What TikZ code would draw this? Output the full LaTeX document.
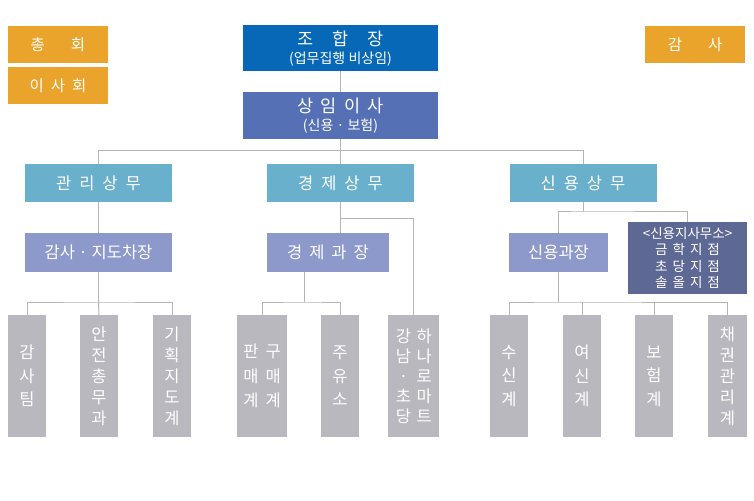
\documentclass[tikz,border=0pt]{standalone}
\usepackage{fontspec}
\setmainfont{Noto Sans CJK KR}
\definecolor{orgc}{HTML}{EAA42C}
\definecolor{chiefc}{HTML}{0768B7}
\definecolor{execc}{HTML}{5570B4}
\definecolor{deptc}{HTML}{69B0CC}
\definecolor{mgrc}{HTML}{8D98CB}
\definecolor{branchc}{HTML}{5E6894}
\definecolor{unitc}{HTML}{B9B8BE}
\definecolor{wirec}{HTML}{B5B5B5}
\begin{document}
\begin{tikzpicture}[x=1pt,y=-1pt,
  box/.style={rectangle, inner sep=0pt, outer sep=0pt, text=white, align=center},
  orgbox/.style={box, fill=orgc, minimum width=100pt, minimum height=37pt, font=\fontsize{15.5}{18}\selectfont},
  topbox/.style={box, minimum width=195pt, minimum height=46pt, font=\fontsize{14}{18}\selectfont},
  deptbox/.style={box, fill=deptc, minimum width=147pt, minimum height=38pt, font=\fontsize{16.5}{18}\selectfont},
  mgrbox/.style={box, fill=mgrc, minimum height=39pt, font=\fontsize{16.5}{18}\selectfont},
  unitbox/.style={box, fill=unitc, minimum width=38pt, minimum height=122pt, font=\fontsize{16.5}{23.5}\selectfont},
  unitlong/.style={unitbox, font=\fontsize{16.5}{21}\selectfont},
  wire/.style={draw=wirec, line width=1pt}]
\useasboundingbox (0,0) rectangle (754,500);

% top-level boxes
\node[orgbox] (chonghoe) at (58,44.5) {총\hspace{26pt}회};
\node[orgbox] (isahoe) at (58,85.5) {이\hspace{7pt}사\hspace{7pt}회};
\node[orgbox] (gamsa) at (695,44.5) {감\hspace{26pt}사};
\node[topbox, fill=chiefc] (chief) at (340.5,48.5) {{\fontsize{17.5}{17}\selectfont 조\hspace{19pt}합\hspace{19pt}장}\\(업무집행 비상임)};
\node[topbox, fill=execc] (exec) at (340.5,115.5) {{\fontsize{17.5}{17}\selectfont 상\hspace{7pt}임\hspace{7pt}이\hspace{7pt}사}\\(신용 · 보험)};

% departments
\node[deptbox] (gwanri) at (98.5,183) {관\hspace{8pt}리\hspace{8pt}상\hspace{8pt}무};
\node[deptbox] (gyeongje) at (340.5,183) {경\hspace{8pt}제\hspace{8pt}상\hspace{8pt}무};
\node[deptbox] (sinyong) at (583,183) {신\hspace{8pt}용\hspace{8pt}상\hspace{8pt}무};

% managers
\node[mgrbox, minimum width=147pt] (gamsajido) at (98.5,252.5) {감사 · 지도차장};
\node[mgrbox, minimum width=122pt] (gwajang) at (328,252.5) {경\hspace{7pt}제\hspace{7pt}과\hspace{7pt}장};
\node[mgrbox, minimum width=99pt] (singwa) at (558.5,252.5) {신용과장};
\node[box, fill=branchc, minimum width=119pt, minimum height=72pt, font=\fontsize{13.5}{16.5}\selectfont] (jisa) at (687.5,258) {<신용지사무소>\\금\hspace{5pt}학\hspace{5pt}지\hspace{5pt}점\\초\hspace{5pt}당\hspace{5pt}지\hspace{5pt}점\\솔\hspace{5pt}올\hspace{5pt}지\hspace{5pt}점};

% units
\node[unitbox] (gamsateam) at (27,376) {감\\사\\팀};
\node[unitlong] (anjeon) at (99,376) {안\\전\\총\\무\\과};
\node[unitlong] (gihoek) at (172,376) {기\\획\\지\\도\\계};
\node[unitbox, minimum width=50pt, font=\fontsize{16.5}{24.5}\selectfont] (panmae) at (262,376) {판\hspace{7pt}구\\매\hspace{7pt}매\\계\hspace{7pt}계};
\node[unitbox] (juyuso) at (340,376) {주\\유\\소};
\node[unitbox, minimum width=51pt, font=\fontsize{16.5}{20}\selectfont] (hanaro) at (413.5,376) {\makebox[16.5pt]{강}\hspace{5pt}하\\\makebox[16.5pt]{남}\hspace{5pt}나\\\makebox[16.5pt]{·}\hspace{5pt}로\\\makebox[16.5pt]{초}\hspace{5pt}마\\\makebox[16.5pt]{당}\hspace{5pt}트};
\node[unitbox] (susin) at (509,376) {수\\신\\계};
\node[unitbox] (yeosin) at (582,376) {여\\신\\계};
\node[unitbox] (boheom) at (654,376) {보\\험\\계};
\node[unitlong, minimum width=39pt] (chaegwon) at (727.5,376) {채\\권\\관\\리\\계};

% connectors
\draw[wire] (chief.south) -- (exec.north);
\draw[wire] (exec.south) -- (gyeongje.north);
\draw[wire] (gwanri.north) -- ++(0,-14) -| (sinyong.north);

\draw[wire] (gwanri.south) -- (gamsajido.north);
\draw[wire] (gamsajido.south) -- ++(0,30) coordinate (j1);
\draw[wire] (gamsateam.north) |- (j1) -| (gihoek.north);
\draw[wire] (j1) -- (anjeon.north);

\draw[wire] (gyeongje.south) -- (gyeongje.south |- gwajang.north);
\path (gyeongje.south) ++(0,16) coordinate (j2);
\draw[wire] (j2) -| (hanaro.north);
\draw[wire] ([xshift=-24pt]gwajang.south) -- ++(0,30) coordinate (j3);
\draw[wire] (panmae.north) |- (j3) -| (juyuso.north);

\path (sinyong.south) ++(0,9) coordinate (j4);
\draw[wire] (sinyong.south) -- (j4);
\draw[wire] (singwa.north) |- (j4) -| (jisa.north);
\draw[wire] (singwa.south) -- ++(0,30) coordinate (j5);
\draw[wire] (susin.north) |- (j5) -| (chaegwon.north);
\draw[wire] (yeosin.north) -- (yeosin.north |- j5);
\draw[wire] (boheom.north) -- (boheom.north |- j5);
\end{tikzpicture}
\end{document}
